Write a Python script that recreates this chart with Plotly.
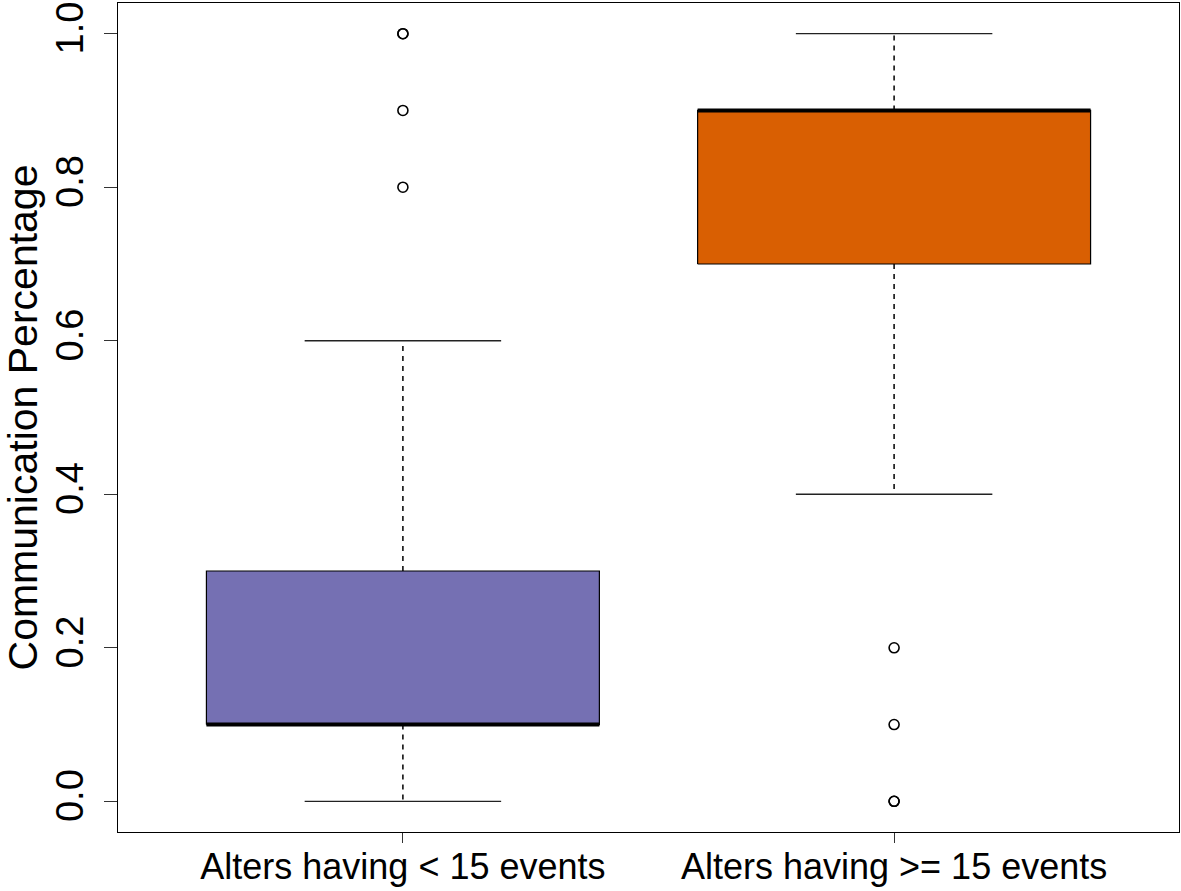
import plotly.graph_objects as go

# ---- data ----
categories = ["Alters having &lt; 15 events", "Alters having &gt;= 15 events"]
positions = [1, 2]
lower_whisker = [0.0, 0.4]
q1 = [0.1, 0.7]
median = [0.1, 0.9]
q3 = [0.3, 0.9]
upper_whisker = [0.6, 1.0]
outliers = [[0.8, 0.9, 1.0, 1.0], [0.0, 0.0, 0.1, 0.2]]
box_colors = ["#7570B3", "#D95F02"]
y_ticks = [0.0, 0.2, 0.4, 0.6, 0.8, 1.0]

# ---- style ----
BOX_HALF = 0.4
CAP_HALF = 0.2
FONT = "Liberation Sans, Arial, Helvetica, sans-serif"

fig = go.Figure()

for i, c in enumerate(positions):
    # dashed whiskers
    fig.add_trace(go.Scatter(
        x=[c, c, None, c, c],
        y=[q3[i], upper_whisker[i], None, q1[i], lower_whisker[i]],
        mode="lines", line=dict(color="black", width=1.5, dash="5px,5px"),
        hoverinfo="skip", showlegend=False))
    # box
    fig.add_trace(go.Scatter(
        x=[c - BOX_HALF, c + BOX_HALF, c + BOX_HALF, c - BOX_HALF, c - BOX_HALF],
        y=[q1[i], q1[i], q3[i], q3[i], q1[i]],
        mode="lines", fill="toself", fillcolor=box_colors[i],
        line=dict(color="black", width=1.2),
        hoverinfo="skip", showlegend=False))
    # median
    fig.add_trace(go.Scatter(
        x=[c - BOX_HALF, c + BOX_HALF], y=[median[i], median[i]],
        mode="lines", line=dict(color="black", width=4),
        hoverinfo="skip", showlegend=False))
    # staples
    fig.add_trace(go.Scatter(
        x=[c - CAP_HALF, c + CAP_HALF, None, c - CAP_HALF, c + CAP_HALF],
        y=[upper_whisker[i], upper_whisker[i], None, lower_whisker[i], lower_whisker[i]],
        mode="lines", line=dict(color="#222222", width=1.3),
        hoverinfo="skip", showlegend=False))
    # outliers
    fig.add_trace(go.Scatter(
        x=[c] * len(outliers[i]), y=outliers[i],
        mode="markers",
        marker=dict(symbol="circle-open", size=10, color="black", line=dict(width=1.6)),
        hoverinfo="skip", showlegend=False))

fig.update_layout(
    width=1181, height=891,
    margin=dict(l=118, r=2, t=3, b=59),
    plot_bgcolor="white", paper_bgcolor="white",
    font=dict(family=FONT, color="black"),
    showlegend=False,
    xaxis=dict(
        range=[0.42, 2.58], tickmode="array", tickvals=positions, ticktext=categories,
        showgrid=False, zeroline=False, showline=True, mirror=True,
        linecolor="black", linewidth=1.3, automargin=False,
        ticks="outside", ticklen=10, tickwidth=1.3, tickcolor="#333333",
        ticklabelstandoff=-7,
        tickfont=dict(size=36, family=FONT, color="black"),
    ),
    yaxis=dict(
        range=[-0.04, 1.04], tickmode="array", tickvals=y_ticks, tickformat=".1f",
        showgrid=False, zeroline=False, showline=True, mirror=True,
        linecolor="black", linewidth=1.3, automargin=False,
        ticks="outside", ticklen=13, tickwidth=1.3, tickcolor="#333333",
        tickangle=-90, ticklabelstandoff=6,
        tickfont=dict(size=38, family=FONT, color="black"),
        title=dict(text="Communication Percentage", font=dict(size=41, family=FONT, color="black"),
                   standoff=10),
    ),
)

fig.write_html("out.html", config={"displayModeBar": False},
               post_script="document.body.style.margin='0';")
